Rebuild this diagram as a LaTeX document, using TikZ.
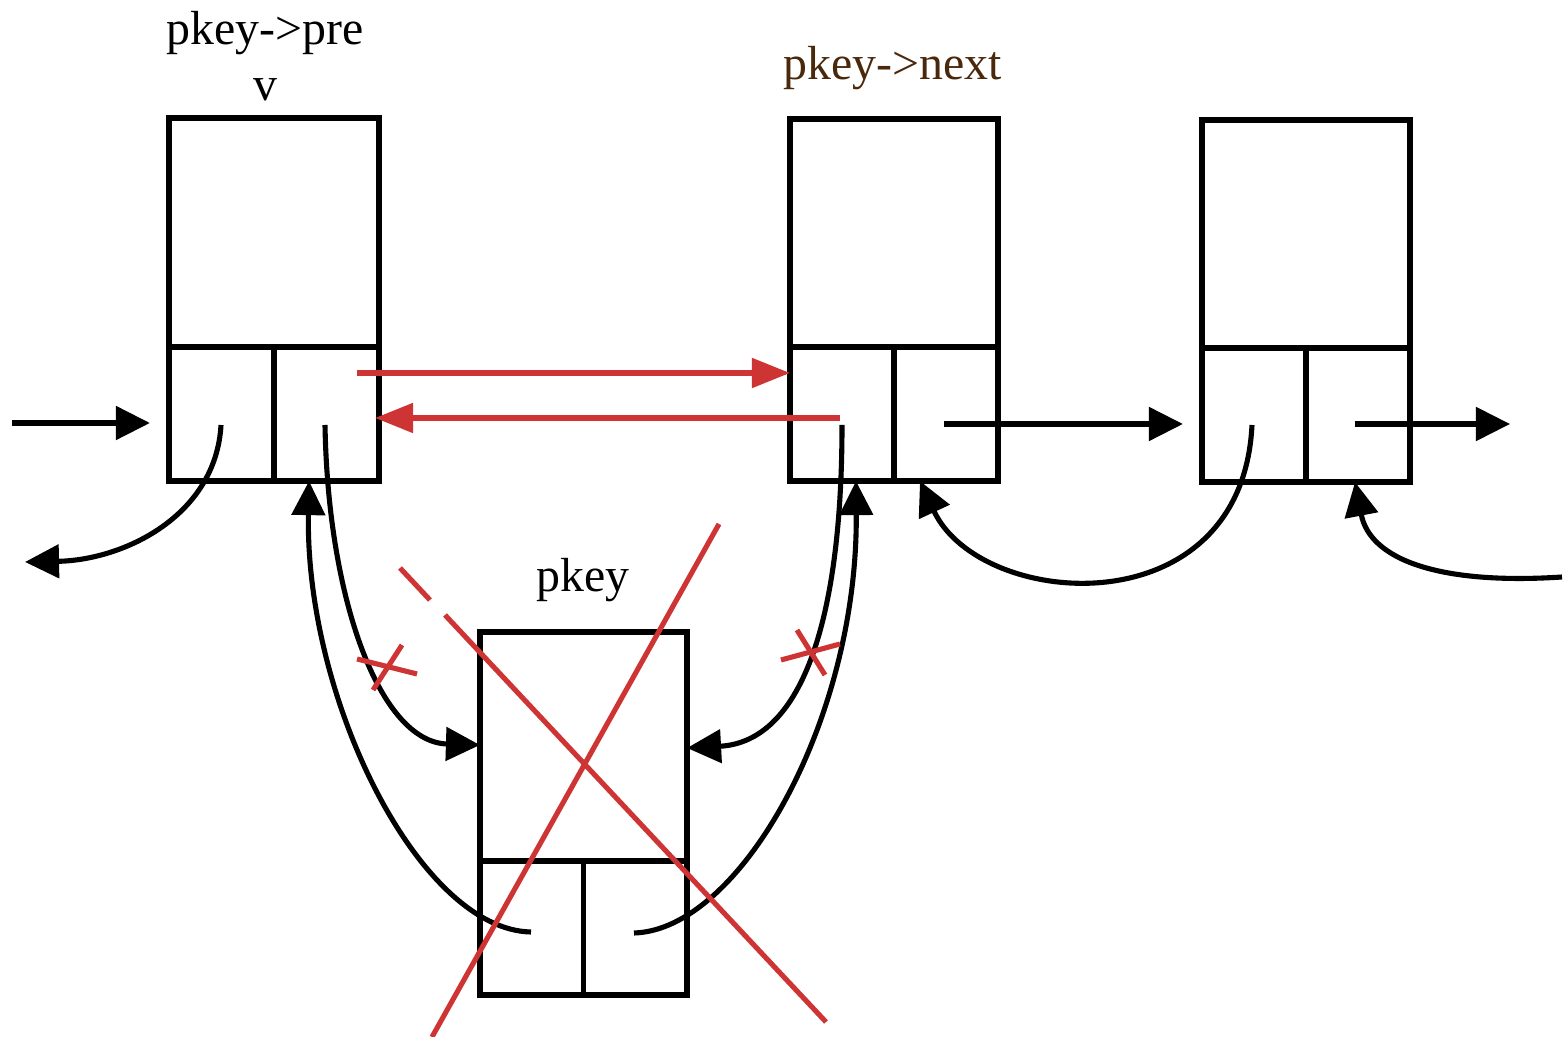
\documentclass[tikz,border=0pt]{standalone}
\usepackage{fontspec}
\setmainfont{Liberation Serif}
\usetikzlibrary{arrows.meta}
\definecolor{xred}{RGB}{207,52,52}
\definecolor{xbrown}{RGB}{74,40,12}
\tikzset{
  box/.style={draw, line width=1.6pt, inner sep=0pt, outer sep=0pt,
              minimum width=2.08cm, minimum height=3.62cm},
  divline/.style={line width=1.5pt},
  blk/.style={line width=1.45pt, -{Triangle[length=0.34cm,width=0.33cm]}},
  redarr/.style={xred, line width=1.45pt, -{Triangle[length=0.38cm,width=0.29cm]}},
  redline/.style={xred, line width=1.45pt},
  lbl/.style={font=\fontsize{13.6}{16}\selectfont, anchor=base, inner sep=0pt}
}
\begin{document}
\begin{tikzpicture}[x=0.01cm, y=-0.01cm]
\useasboundingbox[fill=white] (0,0) rectangle (1566,1037);

% boxes
\node[box, minimum width=2.10cm, minimum height=3.63cm] (A) at (274,299.5) {};
\node[box] (B) at (894,300) {};
\node[box] (C) at (1306,301) {};
\node[box, minimum width=2.07cm, minimum height=3.63cm] (D) at (583.5,813.5) {};
\foreach \b in {A,B,C,D}{
  \draw[divline] ([yshift=1.34cm]\b.south west) -- ([yshift=1.34cm]\b.south east);
  \draw[divline] (\b.south) -- ([yshift=1.34cm]\b.south);
}

% labels
\node[lbl] (tA1) at (265,45) {pkey->pre};
\node[lbl] (tA2) at (265,101) {v};
\node[lbl, text=xbrown] (tB) at (893,80) {pkey->next};
\node[lbl] (tD) at (583,592) {pkey};

% pointer coordinates
\coordinate (Al) at (221,425);
\coordinate (Ar) at (325,425);
\coordinate (Bl) at (842,425);
\coordinate (Br) at (944,424);
\coordinate (Cl) at (1252,425);
\coordinate (Cr) at (1355,424);
\coordinate (Dl) at (531,932);
\coordinate (Dr) at (634,933);
\coordinate (inA) at (12,423);
\coordinate (outA) at (25,562);
\coordinate (outC) at (1510,424);
\coordinate (inC) at (1562,577);

% black connectors
\draw[blk] (inA) -- ([xshift=-0.19cm]A.west |- inA);
\draw[blk] (Al) .. controls (216,515) and (125,560) .. (outA);
\draw[blk] (Br) -- ([xshift=-0.19cm]C.west |- Br);
\draw[blk] (Cr) -- (outC);
\draw[blk] (Cl) .. controls (1242,630) and (980,610) .. ([xshift=0.26cm]B.south);
\draw[blk] (inC) .. controls (1440,585) and (1370,560) .. ([xshift=0.49cm]C.south);
\draw[blk] (Ar) .. controls (328,600) and (380,742) .. (D.west |- 0,745);
\draw[blk] (Dl) .. controls (420,930) and (305,700) .. ([xshift=0.35cm]A.south);
\draw[blk] (Bl) .. controls (842,625) and (800,742) .. (D.east |- 0,748);
\draw[blk] (Dr) .. controls (740,930) and (858,720) .. ([xshift=-0.38cm]B.south);

% red arrows
\draw[redarr] (357,373) -- (B.west |- 0,373);
\draw[redarr] (840,418) -- ([xshift=-0.04cm]A.east |- 0,418);

% red crosses on links
\draw[redline] (357,659) -- (417,674);
\draw[redline] (373,690) -- (402,645);
\draw[redline] (781,660) -- (840,644);
\draw[redline] (797,630) -- (825,675);

% big red X over pkey
\draw[redline] (719,524) -- (432,1037);
\draw[redline] (400,568) -- (430,600);
\draw[redline] (445,615) -- (826,1022);
\end{tikzpicture}
\end{document}
